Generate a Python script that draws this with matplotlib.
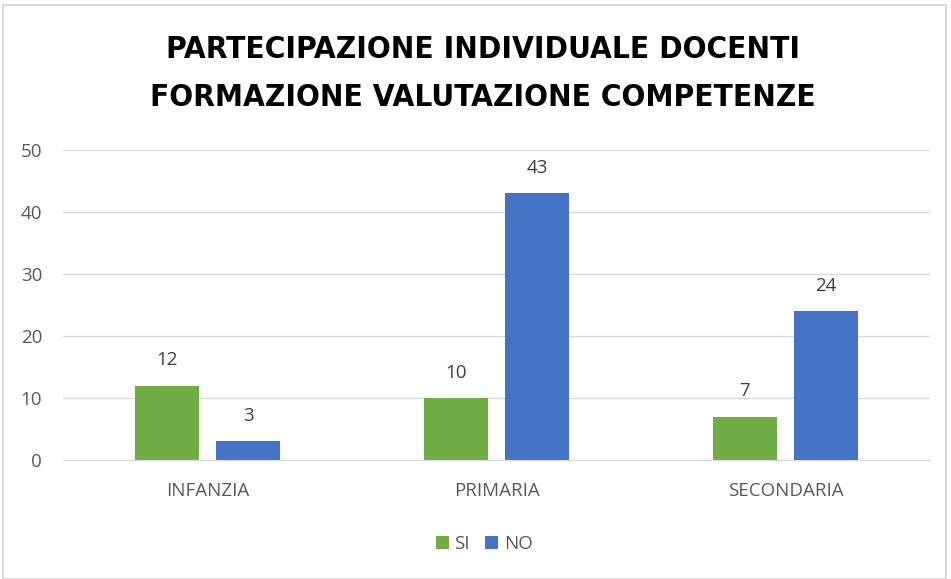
import matplotlib.pyplot as plt
import numpy as np
from matplotlib.patches import Rectangle

# dati
categorie = ["INFANZIA", "PRIMARIA", "SECONDARIA"]
si = [12, 10, 7]
no = [3, 43, 24]
yticks = [0, 10, 20, 30, 40, 50]
titolo = ["PARTECIPAZIONE INDIVIDUALE DOCENTI", "FORMAZIONE VALUTAZIONE COMPETENZE"]

verde = "#70AD47"
blu = "#4472C4"

fig = plt.figure(figsize=(9.51, 5.79), dpi=100)
ax = fig.add_axes([63 / 951, 1 - 460 / 579, (930 - 63) / 951, (460 - 150) / 579])

x = np.arange(len(categorie))
w = 0.22
off = 0.141
b1 = ax.bar(x - off, si, w, color=verde, label="SI")
b2 = ax.bar(x + off, no, w, color=blu, label="NO")

for bars in (b1, b2):
    for b in bars:
        ax.text(b.get_x() + b.get_width() / 2, b.get_height() + 3.3, str(int(b.get_height())),
                ha="center", va="baseline", fontsize=13.5, color="#404040", family="Open Sans")

ax.set_xlim(-0.5, 2.5)
ax.set_ylim(0, 50)
ax.set_yticks(yticks)
ax.grid(axis="y", color="#D9D9D9", linewidth=1)
ax.set_axisbelow(True)
for s in ["top", "right", "left"]:
    ax.spines[s].set_visible(False)
ax.spines["bottom"].set_color("#D9D9D9")
ax.tick_params(length=0)
ax.tick_params(axis="y", pad=15, labelsize=13.5, labelcolor="#595959")
ax.tick_params(axis="x", pad=16, labelsize=13.5, labelcolor="#595959")
ax.set_xticks(x)
ax.set_xticklabels(categorie, family="Open Sans")
for t in ax.get_yticklabels():
    t.set_family("Open Sans")

# titolo su due righe
for riga, ypix in zip(titolo, [50, 97]):
    fig.text(483 / 951, 1 - ypix / 579, riga, ha="center", va="center", fontsize=22.6,
             fontweight="bold", fontstretch="condensed", color="#000000", family="DejaVu Sans")

leg = fig.legend(loc="center", bbox_to_anchor=(484 / 951, 1 - 544 / 579), ncol=2, frameon=False,
                 handlelength=0.7, handleheight=0.7, handletextpad=0.3, columnspacing=0.8,
                 prop={"family": "Open Sans", "size": 13.5})
for t in leg.get_texts():
    t.set_color("#595959")

fig.patches.append(Rectangle((3 / 951, 0), 943 / 951, 1 - 5 / 579, transform=fig.transFigure,
                             fill=False, edgecolor="#D0D0D0", linewidth=1.2))

fig.savefig("out.png", dpi=100)
